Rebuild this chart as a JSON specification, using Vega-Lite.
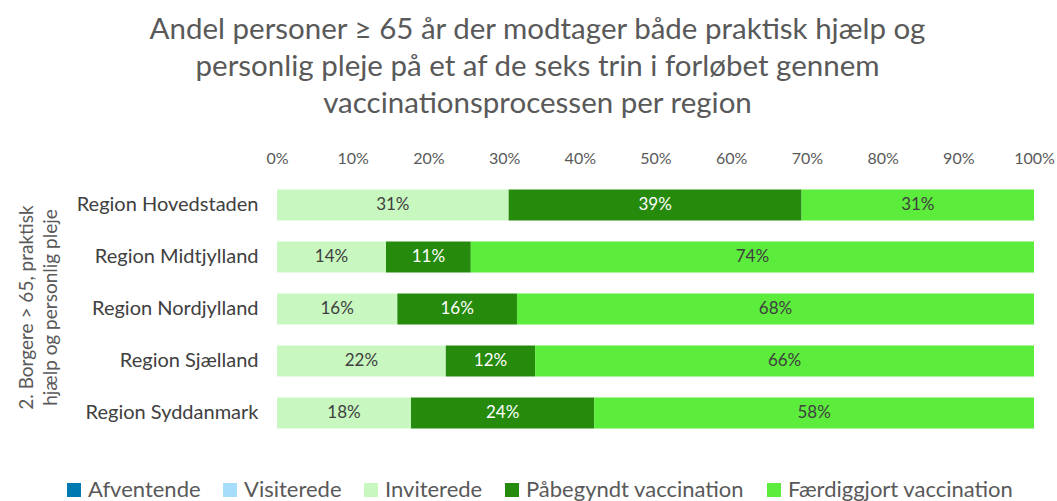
{
  "$schema": "https://vega.github.io/schema/vega-lite/v6.json",
  "autosize": "none",
  "width": 757,
  "height": 260,
  "padding": {"left": 277, "top": 179, "right": 23, "bottom": 62},
  "background": "white",
  "config": {
    "font": "Lato",
    "view": {"stroke": null}
  },
  "title": {
    "text": ["Andel personer ≥ 65 år der modtager både praktisk hjælp og", "personlig pleje på et af de seks trin i forløbet gennem", "vaccinationsprocessen per region"],
    "fontSize": 29.5,
    "fontWeight": "normal",
    "color": "#595959",
    "lineHeight": 37,
    "anchor": "middle",
    "frame": "group",
    "dx": -118,
    "offset": 31
  },
  "data": {
    "values": [
      {"region": "Region Hovedstaden", "status": "Inviterede", "trin": 3, "pct": 30.6},
      {"region": "Region Hovedstaden", "status": "Påbegyndt vaccination", "trin": 4, "pct": 38.7},
      {"region": "Region Hovedstaden", "status": "Færdiggjort vaccination", "trin": 5, "pct": 30.7},
      {"region": "Region Midtjylland", "status": "Inviterede", "trin": 3, "pct": 14.4},
      {"region": "Region Midtjylland", "status": "Påbegyndt vaccination", "trin": 4, "pct": 11.2},
      {"region": "Region Midtjylland", "status": "Færdiggjort vaccination", "trin": 5, "pct": 74.4},
      {"region": "Region Nordjylland", "status": "Inviterede", "trin": 3, "pct": 15.9},
      {"region": "Region Nordjylland", "status": "Påbegyndt vaccination", "trin": 4, "pct": 15.8},
      {"region": "Region Nordjylland", "status": "Færdiggjort vaccination", "trin": 5, "pct": 68.3},
      {"region": "Region Sjælland", "status": "Inviterede", "trin": 3, "pct": 22.3},
      {"region": "Region Sjælland", "status": "Påbegyndt vaccination", "trin": 4, "pct": 11.8},
      {"region": "Region Sjælland", "status": "Færdiggjort vaccination", "trin": 5, "pct": 65.9},
      {"region": "Region Syddanmark", "status": "Inviterede", "trin": 3, "pct": 17.7},
      {"region": "Region Syddanmark", "status": "Påbegyndt vaccination", "trin": 4, "pct": 24.2},
      {"region": "Region Syddanmark", "status": "Færdiggjort vaccination", "trin": 5, "pct": 58.1}
    ]
  },
  "transform": [
    {"stack": "pct", "groupby": ["region"], "sort": [{"field": "trin", "order": "ascending"}], "as": ["x0", "x1"]},
    {"calculate": "(datum.x0 + datum.x1) / 2", "as": "xmid"},
    {"calculate": "format(datum.pct, '.0f') + '%'", "as": "label"}
  ],
  "encoding": {
    "y": {
      "field": "region",
      "type": "nominal",
      "sort": ["Region Hovedstaden", "Region Midtjylland", "Region Nordjylland", "Region Sjælland", "Region Syddanmark"],
      "scale": {"paddingInner": 0.4, "paddingOuter": 0.2},
      "axis": {
        "title": ["2. Borgere > 65, praktisk", "hjælp og personlig pleje"],
        "titleFontSize": 19,
        "titleFontWeight": "normal",
        "titleColor": "#595959",
        "titleAngle": -90,
        "titleX": -251,
        "titleY": 128,
        "titleAlign": "center",
        "titleBaseline": "middle",
        "titleLineHeight": 24,
        "labelFontSize": 20,
        "labelColor": "#404040",
        "labelPadding": 19,
        "labelLimit": 300,
        "ticks": false,
        "domain": false
      }
    }
  },
  "layer": [
    {
      "mark": {"type": "bar"},
      "encoding": {
        "x": {
          "field": "x0",
          "type": "quantitative",
          "scale": {"domain": [0, 100]},
          "axis": {
            "orient": "top",
            "title": null,
            "values": [0, 10, 20, 30, 40, 50, 60, 70, 80, 90, 100],
            "labelExpr": "datum.value + '%'",
            "labelFontSize": 16,
            "labelColor": "#595959",
            "labelPadding": 13,
            "labelFlush": false,
            "grid": false,
            "ticks": false,
            "domain": false
          }
        },
        "x2": {"field": "x1"},
        "color": {
          "field": "status",
          "type": "nominal",
          "scale": {
            "domain": ["Afventende", "Visiterede", "Inviterede", "Påbegyndt vaccination", "Færdiggjort vaccination"],
            "range": ["#0079B0", "#A6DDFA", "#C8F7C0", "#268A0D", "#5CEC3C"]
          },
          "legend": {
            "orient": "none",
            "legendX": -214,
            "legendY": 300,
            "direction": "horizontal",
            "columns": 5,
            "title": null,
            "symbolType": "square",
            "symbolSize": 196,
            "symbolStrokeWidth": 0,
            "labelFontSize": 22,
            "labelColor": "#595959",
            "labelOffset": 3,
            "columnPadding": 18,
            "labelLimit": 400
          }
        }
      }
    },
    {
      "mark": {"type": "text", "fontSize": 17, "baseline": "middle"},
      "encoding": {
        "x": {"field": "xmid", "type": "quantitative"},
        "text": {"field": "label"},
        "color": {
          "condition": {"test": "datum.status === 'Påbegyndt vaccination'", "value": "white"},
          "value": "#404040"
        }
      }
    }
  ]
}
